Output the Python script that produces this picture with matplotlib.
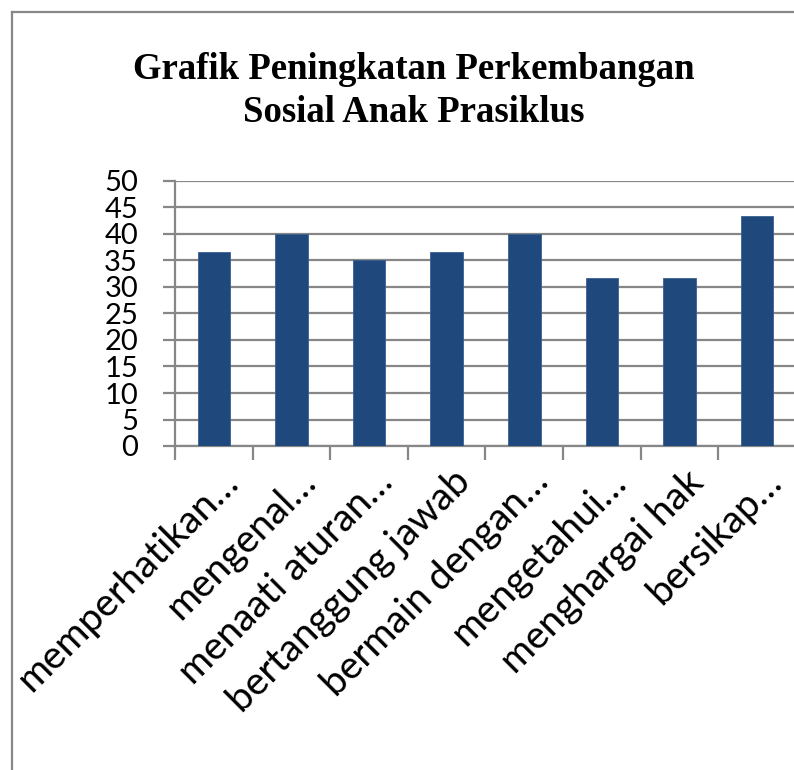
import matplotlib
matplotlib.use("Agg")
import matplotlib.pyplot as plt
from matplotlib.lines import Line2D

categories = [
    "memperhatikan…",
    "mengenal…",
    "menaati aturan…",
    "bertanggung jawab",
    "bermain dengan…",
    "mengetahui…",
    "menghargai hak",
    "bersikap…",
]
values = [36.67, 40.0, 35.0, 36.67, 40.0, 31.67, 31.67, 43.33]
yticks = list(range(0, 51, 5))
title_lines = ["Grafik Peningkatan Perkembangan", "Sosial Anak Prasiklus"]

W, H = 794, 770
fig = plt.figure(figsize=(W / 100, H / 100), dpi=100)
fig.patch.set_facecolor("white")

# plot area in pixel units
left_px, right_px, top_px, bottom_px = 175, 796, 181, 446
ax = fig.add_axes([left_px / W, 1 - bottom_px / H,
                   (right_px - left_px) / W, (bottom_px - top_px) / H])
ax.set_facecolor("white")

grid_color = "#878787"
bar_color = "#1F497D"

x = list(range(len(categories)))
ax.bar(x, values, width=0.42, color=bar_color, edgecolor="#3a5f8f",
       linewidth=0.6, zorder=3)

ax.set_xlim(-0.5, len(categories) - 0.5)
ax.set_ylim(0, 50)
ax.set_yticks(yticks)
ax.set_yticklabels([str(v) for v in yticks])
ax.yaxis.grid(True, color=grid_color, linewidth=1.6, zorder=0)
ax.set_axisbelow(True)

for side in ("top", "right"):
    ax.spines[side].set_visible(False)
for side in ("left", "bottom"):
    ax.spines[side].set_color(grid_color)
    ax.spines[side].set_linewidth(1.6)

ax.tick_params(axis="y", direction="out", length=8.6, width=1.6,
               color=grid_color, pad=18, labelsize=21, labelcolor="black")
for lbl in ax.get_yticklabels():
    lbl.set_fontfamily("Lato")

# category boundary ticks, labels placed separately
ax.set_xticks([i - 0.5 for i in x])
ax.set_xticklabels([])
ax.tick_params(axis="x", direction="out", length=10, width=1.6,
               color=grid_color)

for i, name in zip(x, categories):
    ax.annotate(name, xy=(i, 0), xycoords=("data", "axes fraction"),
                xytext=(26, -38), textcoords="offset pixels",
                rotation=45, rotation_mode="anchor",
                ha="right", va="baseline",
                fontsize=28, fontfamily="Lato", color="black",
                annotation_clip=False)

# title, two centred lines
title_cx = 414 / W
fig.text(title_cx, 1 - 79 / H, title_lines[0], ha="center", va="baseline",
         fontsize=26.5, fontweight="bold", fontfamily="Liberation Serif")
fig.text(title_cx, 1 - 121.7 / H, title_lines[1], ha="center", va="baseline",
         fontsize=26.5, fontweight="bold", fontfamily="Liberation Serif")

# chart-area border (left and top edges)
fx = 12 / W
fy = 1 - 11.5 / H
fig.add_artist(Line2D([fx, fx], [0, fy], transform=fig.transFigure,
                      color="#888888", linewidth=1.6))
fig.add_artist(Line2D([fx, 1], [fy, fy], transform=fig.transFigure,
                      color="#888888", linewidth=1.6))

fig.savefig("out.png", dpi=100)
